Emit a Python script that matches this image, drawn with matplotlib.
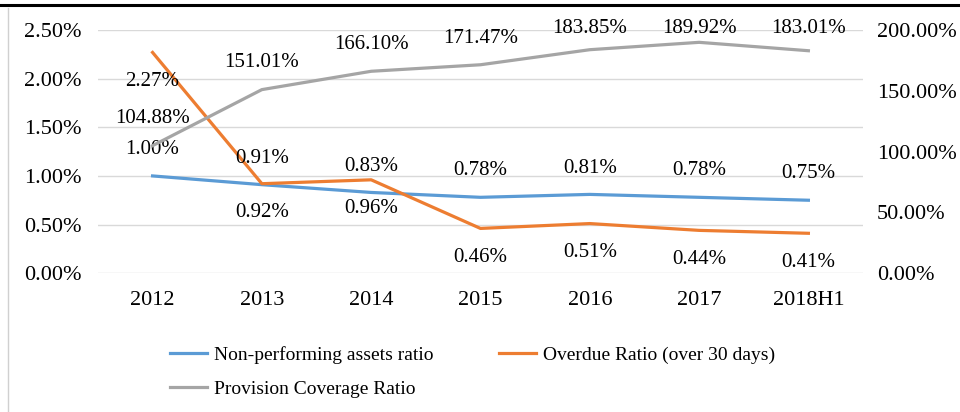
import matplotlib.pyplot as plt
from matplotlib.lines import Line2D
from matplotlib.ticker import FuncFormatter

plt.rcParams['font.family'] = ['Liberation Serif', 'DejaVu Serif']

# data
years = ["2012", "2013", "2014", "2015", "2016", "2017", "2018H1"]
npa_ratio = [1.00, 0.91, 0.83, 0.78, 0.81, 0.78, 0.75]
overdue_ratio = [2.27, 0.92, 0.96, 0.46, 0.51, 0.44, 0.41]
provision_cov = [104.88, 151.01, 166.10, 171.47, 183.85, 189.92, 183.01]

c_blue = '#5B9BD5'
c_orange = '#ED7D31'
c_gray = '#A5A5A5'
fs_tick = 16
fs_lab = 15
fs_leg = 14

fig = plt.figure(figsize=(9.6, 4.12), dpi=100)
ax = fig.add_axes([0.102, 0.337, 0.797, 0.590])
ax2 = ax.twinx()

x = list(range(len(years)))
ax.plot(x, npa_ratio, color=c_blue, lw=2.3, zorder=3)
ax.plot(x, overdue_ratio, color=c_orange, lw=2.3, zorder=3)
ax2.plot(x, provision_cov, color=c_gray, lw=2.3, zorder=3)

ax.set_xlim(-0.5, 6.5)
ax.set_ylim(0, 2.5)
ax.set_yticks([0, 0.5, 1.0, 1.5, 2.0, 2.5])
ax.yaxis.set_major_formatter(FuncFormatter(lambda v, p: f"{v:.2f}%"))
ax2.set_ylim(0, 200)
ax2.set_yticks([0, 50, 100, 150, 200])
ax2.yaxis.set_major_formatter(FuncFormatter(lambda v, p: f"{v:.2f}%"))

ax.set_xticks(x)
ax.set_xticklabels(years)
ax.grid(axis='y', color='#D9D9D9', lw=1)
ax.set_axisbelow(True)
for a in (ax, ax2):
    for s in a.spines.values():
        s.set_visible(False)
ax.tick_params(axis='both', length=0, labelsize=fs_tick)
ax.tick_params(axis='y', pad=12)
ax.tick_params(axis='x', pad=13)
ax2.tick_params(axis='y', length=0, labelsize=fs_tick, pad=10)

# data labels
for i, v in enumerate(npa_ratio):
    ax.annotate(f"{v:.2f}%", (i, v), xytext=(0, 19), textcoords='offset points',
                ha='center', va='center', fontsize=fs_lab)
for i, v in enumerate(overdue_ratio):
    ax.annotate(f"{v:.2f}%", (i, v), xytext=(0, -21), textcoords='offset points',
                ha='center', va='center', fontsize=fs_lab)
for i, v in enumerate(provision_cov):
    ax2.text(i, min(v + 22, 201.6), f"{v:.2f}%", ha='center', va='center',
             fontsize=fs_lab)

# order so that the two-column legend reads row by row
handles = [Line2D([], [], color=c_blue, lw=2.3),
           Line2D([], [], color=c_gray, lw=2.3),
           Line2D([], [], color=c_orange, lw=2.3)]
labels = ["Non-performing assets ratio", "Provision Coverage Ratio",
          "Overdue Ratio (over 30 days)"]
fig.legend(handles, labels, loc='upper left', bbox_to_anchor=(0.177, 0.160),
           ncol=2, frameon=False, fontsize=fs_leg, handlelength=1.9,
           handletextpad=0.36, columnspacing=3.4, labelspacing=0.85,
           borderaxespad=0, borderpad=0)

# frame lines seen in the reference
fig.add_artist(Line2D([0, 1], [0.988, 0.988], color='black', lw=2.2,
                      transform=fig.transFigure))
fig.add_artist(Line2D([0.008, 0.008], [0, 0.98], color='#D0D0D0', lw=1,
                      transform=fig.transFigure))

fig.savefig('out.png', dpi=100)
